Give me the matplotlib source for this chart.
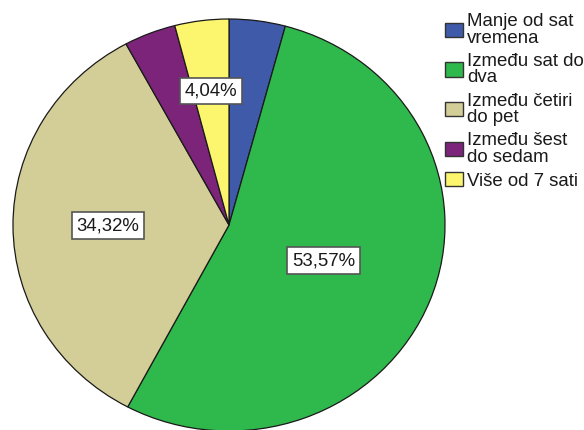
import matplotlib
matplotlib.use('Agg')
import matplotlib.pyplot as plt
from matplotlib.patches import Patch
import numpy as np

# ─── Data ─────────────────────────────────────────────────────────────────────
categories = ['Manje od sat\nvremena', 'Između sat do\ndva', 'Između četiri\ndo pet',
              'Između šest\ndo sedam', 'Više od 7 sati']
percents = [4.20, 53.57, 34.32, 3.87, 4.04]
show_label = [False, True, True, False, True]

# ─── Style ────────────────────────────────────────────────────────────────────
COLORS = ['#3f5aa8', '#2fb84b', '#d3ce97', '#7b2479', '#fbf66e']
LABEL_R = [0.5, 0.47, 0.56, 0.5, 0.655]
FS = 13.4

plt.rcParams['font.family'] = ['Liberation Sans', 'DejaVu Sans']

W, H = 584, 430
fig = plt.figure(figsize=(W / 100, H / 100), dpi=100)
ax = fig.add_axes([13 / W, (H - 431) / H, 432 / W, 412 / H])

wedges, _ = ax.pie(percents, colors=COLORS, startangle=90, counterclock=False,
                   wedgeprops=dict(edgecolor='#1a1a1a', linewidth=0.9))
ax.set_aspect('auto')
ax.set_xlim(-1, 1)
ax.set_ylim(-1, 1)
ax.axis('off')
for w in wedges:
    w.set_clip_on(False)

# percentage boxes, only on the slices that carry one
for w, val, show, r in zip(wedges, percents, show_label, LABEL_R):
    if not show:
        continue
    ang = np.deg2rad((w.theta1 + w.theta2) / 2)
    ax.text(r * np.cos(ang), r * np.sin(ang), f'{val:.2f}%'.replace('.', ','),
            ha='center', va='center', fontsize=FS, color='#1a1a1a',
            bbox=dict(boxstyle='square,pad=0.25', facecolor='white',
                      edgecolor='#555555', linewidth=1.2))

handles = [Patch(facecolor=c, edgecolor='#333333', linewidth=1.0) for c in COLORS]
leg = fig.legend(handles, categories, loc='upper left',
                 bbox_to_anchor=(445 / W, 1 - 13 / H), frameon=False,
                 fontsize=FS, handlelength=0.97, handleheight=0.8,
                 handletextpad=0.2, labelspacing=0.33, borderpad=0,
                 borderaxespad=0)
for t in leg.get_texts():
    t.set_linespacing(0.97)
    t.set_color('#1a1a1a')

plt.savefig('out.png', dpi=100)
